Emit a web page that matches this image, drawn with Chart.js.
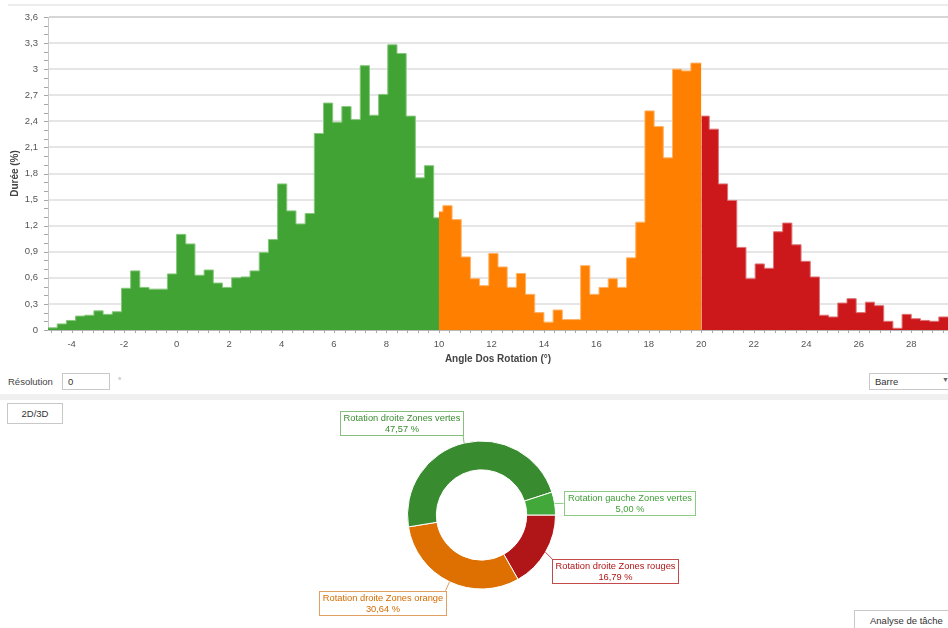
<!DOCTYPE html>
<html>
<head>
<meta charset="utf-8">
<title>Angle Dos Rotation</title>
<script src="https://cdn.jsdelivr.net/npm/chart.js@4.4.1/dist/chart.umd.min.js"></script>
<style>
  body { margin: 0; width: 948px; height: 628px; overflow: hidden; background: #fff;
         font-family: 'Liberation Sans', Arial, sans-serif; font-size: 9.5px; color: #444; position: relative; }
  .abs { position: absolute; }
  #topBand { left: 8px; top: 4px; width: 940px; height: 2px; background: #ececec; }
  #histo { left: 0; top: 0; }
  #donut { left: 0; top: 400px; }
  #resLabel { left: 8px; top: 376px; }
  #resInput { left: 62px; top: 373px; width: 48px; height: 17px; border: 1px solid #c8c8c8; box-sizing: border-box; padding: 2px 0 0 5px; color: #333; }
  #deg { left: 118px; top: 376px; font-size: 8px; color: #777; }
  #sep { left: 0; top: 394px; width: 948px; height: 6px; background: #f0f0f0; }
  #btn3d { left: 7px; top: 403px; width: 56px; height: 21px; border: 1px solid #c8c8c8; box-sizing: border-box; text-align: center; line-height: 19px; color: #333; background: #fff; }
  #typeSel { left: 869px; top: 373px; width: 90px; height: 17px; border: 1px solid #c8c8c8; box-sizing: border-box; padding: 2px 0 0 5px; color: #333; background: #fff; }
  #typeSel span { position: absolute; left: 72px; top: 2px; font-size: 7px; color: #666; }
  #tab { left: 854px; top: 610px; width: 104px; height: 22px; border: 1px solid #c8c8c8; box-sizing: border-box; padding: 4px 0 0 15px; color: #333; background: #fff; }
</style>
</head>
<body>
<div id="topBand" class="abs"></div>
<canvas id="histo" class="abs" width="948" height="370"></canvas>
<canvas id="donut" class="abs" width="948" height="228"></canvas>
<div id="resLabel" class="abs">Résolution</div>
<div id="resInput" class="abs">0</div>
<div id="deg" class="abs">°</div>
<div id="sep" class="abs"></div>
<div id="btn3d" class="abs">2D/3D</div>
<div id="typeSel" class="abs">Barre<span>▼</span></div>
<div id="tab" class="abs">Analyse de tâche</div>

<script>
// Histogram bins (left edge of each bin, in degrees) and durations (%), one set per zone
const greenStarts = [-4.9, -4.55, -4.2, -3.85, -3.5, -3.15, -2.8, -2.45, -2.1, -1.75, -1.4, -1.05, -0.7, -0.35,
    0, 0.35, 0.7, 1.05, 1.4, 1.75, 2.1, 2.45, 2.8, 3.15, 3.5, 3.85, 4.2, 4.55, 4.9, 5.25, 5.6, 5.95,
    6.3, 6.65, 7.0, 7.35, 7.7, 8.05, 8.4, 8.75, 9.1, 9.45, 9.8];
const greenValues = [0.025, 0.07, 0.11, 0.16, 0.17, 0.22, 0.18, 0.21, 0.48, 0.68, 0.49, 0.47, 0.47, 0.645,
    1.10, 0.99, 0.63, 0.69, 0.54, 0.49, 0.60, 0.61, 0.68, 0.89, 1.04, 1.68, 1.37, 1.22, 1.34, 2.26, 2.61, 2.39,
    2.57, 2.42, 3.04, 2.47, 2.71, 3.28, 3.18, 2.46, 1.75, 1.89, 1.29];

const orangeStarts = [10, 10.15, 10.5, 10.85, 11.2, 11.55, 11.9, 12.25, 12.6, 12.95, 13.3, 13.65, 14.0, 14.35,
    14.7, 15.05, 15.4, 15.75, 16.1, 16.45, 16.8, 17.15, 17.5, 17.85, 18.2, 18.55, 18.9, 19.25, 19.6];
const orangeValues = [1.36, 1.43, 1.27, 0.84, 0.59, 0.51, 0.88, 0.725, 0.49, 0.65, 0.41, 0.20, 0.09, 0.23,
    0.12, 0.12, 0.74, 0.41, 0.49, 0.59, 0.49, 0.83, 1.24, 2.52, 2.34, 1.98, 3.00, 2.98, 3.07];

const redStarts = [20, 20.3, 20.65, 21.0, 21.35, 21.7, 22.05, 22.4, 22.75, 23.1, 23.45, 23.8, 24.15, 24.5,
    24.85, 25.2, 25.55, 25.9, 26.25, 26.6, 26.95, 27.3, 27.65, 28.0, 28.35, 28.7, 29.05];
const redValues = [2.46, 2.31, 1.68, 1.49, 0.95, 0.59, 0.76, 0.71, 1.13, 1.23, 0.98, 0.79, 0.61, 0.17,
    0.15, 0.31, 0.36, 0.20, 0.32, 0.28, 0.10, 0.02, 0.18, 0.13, 0.11, 0.10, 0.15];

const zoneEnds = [10, 20, 29.4];
const xRange = [-4.9, 29.4];
const xTickValues = [-4, -2, 0, 2, 4, 6, 8, 10, 12, 14, 16, 18, 20, 22, 24, 26, 28];
const yTickValues = [0, 0.3, 0.6, 0.9, 1.2, 1.5, 1.8, 2.1, 2.4, 2.7, 3, 3.3, 3.6];

// Doughnut: share of time per zone
const sliceLabels = ['Rotation droite Zones rouges', 'Rotation droite Zones orange',
    'Rotation droite Zones vertes', 'Rotation gauche Zones vertes'];
const sliceValues = [16.79, 30.64, 47.57, 5.00];

const FONT = "'Liberation Sans', Arial, sans-serif";
Chart.defaults.font.family = FONT;
Chart.defaults.font.size = 9.5;

function frNumber(v) {
    return String(Number(v.toFixed(2))).replace('.', ',');
}

// stepped line: each point holds its value until the next one
function stepPoints(starts, values, end) {
    const pts = starts.map((s, i) => ({ x: s, y: values[i] }));
    pts.push({ x: end, y: values[values.length - 1] });
    return pts;
}

function zoneDataset(starts, values, end, fillColor, edgeColor) {
    return {
        data: stepPoints(starts, values, end),
        stepped: true,
        fill: 'origin',
        backgroundColor: fillColor,
        borderColor: edgeColor,
        borderWidth: 1,
        pointRadius: 0
    };
}

// small tick marks along both axes
const axisTicks = {
    id: 'axisTicks',
    afterDraw(chart) {
        const { ctx, chartArea, scales } = chart;
        const x = scales.x, y = scales.y;
        ctx.save();
        ctx.strokeStyle = '#a8a8a8';
        ctx.lineWidth = 1;
        ctx.beginPath();
        for (let i = Math.ceil(x.min / 0.4); i * 0.4 <= x.max; i++) {
            const px = Math.round(x.getPixelForValue(i * 0.4)) + 0.5;
            ctx.moveTo(px, chartArea.bottom);
            ctx.lineTo(px, chartArea.bottom + 3);
        }
        for (let i = 0; i <= 36; i++) {
            const py = Math.round(y.getPixelForValue(i / 10)) + 0.5;
            ctx.moveTo(chartArea.left - 4, py);
            ctx.lineTo(chartArea.left, py);
        }
        ctx.stroke();
        ctx.restore();
    }
};

const histoChart = new Chart(document.getElementById('histo'), {
    type: 'line',
    data: {
        datasets: [
            zoneDataset(greenStarts, greenValues, zoneEnds[0], '#41a334', '#86c87c'),
            zoneDataset(orangeStarts, orangeValues, zoneEnds[1], '#ff8000', '#ffb266'),
            zoneDataset(redStarts, redValues, zoneEnds[2], '#cc181b', '#de7476')
        ]
    },
    options: {
        responsive: false,
        animation: false,
        layout: { padding: { top: 17, left: 0, right: 0, bottom: 0 } },
        plugins: { legend: { display: false }, tooltip: { enabled: false } },
        scales: {
            x: {
                type: 'linear',
                min: xRange[0],
                max: xRange[1],
                afterBuildTicks: s => { s.ticks = xTickValues.map(v => ({ value: v })); },
                afterFit: s => { s.height = 40; },
                ticks: { color: '#555', padding: 9, maxRotation: 0, autoSkip: false, callback: v => String(v) },
                grid: { display: false, drawTicks: false },
                border: { color: '#b8b8b8' },
                title: { display: true, text: 'Angle Dos Rotation (°)', color: '#444',
                         font: { weight: 'bold', size: 10 }, padding: { top: 0, bottom: 5 } }
            },
            y: {
                min: 0,
                max: 3.6,
                afterBuildTicks: s => { s.ticks = yTickValues.map(v => ({ value: v })); },
                afterFit: s => { s.width = 48; },
                ticks: { color: '#555', padding: 10, callback: v => frNumber(v) },
                grid: { color: ctx => ctx.tick && ctx.tick.value === 3.6 ? '#d6d6d6' : '#e6e6e6',
                        lineWidth: 2, drawTicks: false },
                border: { color: '#c8c8c8' },
                title: { display: true, text: 'Durée (%)', color: '#444',
                         font: { weight: 'bold', size: 10 }, padding: { top: 9, bottom: 0 } }
            }
        }
    },
    plugins: [axisTicks]
});

// label boxes around the ring, tied to the middle of each slice
const sliceColors = ['#b01517', '#dd7000', '#398b30', '#43a83a'];
const calloutText = ['#b01517', '#d46c00', '#3a8c30', '#3f9f37'];
const calloutBorder = ['#c4494b', '#e0a060', '#86bf7e', '#8ccb84'];
const calloutPlace = [
    { corner: 'top-left', dx: 7, dy: 7 },
    { corner: 'top-right', dx: -4, dy: 9 },
    { corner: 'bottom-right', dx: -1, dy: -8 },
    { corner: 'left-middle', dx: 9, dy: 0 }
];

const callouts = {
    id: 'callouts',
    afterDatasetsDraw(chart) {
        const ctx = chart.ctx;
        const arcs = chart.getDatasetMeta(0).data;
        ctx.save();
        ctx.font = '9.3px ' + FONT;
        ctx.textAlign = 'center';
        ctx.textBaseline = 'middle';
        ctx.lineWidth = 1;
        arcs.forEach((arc, i) => {
            const p = arc.getProps(['x', 'y', 'startAngle', 'endAngle', 'outerRadius'], true);
            const mid = (p.startAngle + p.endAngle) / 2;
            const ax = p.x + Math.cos(mid) * p.outerRadius;
            const ay = p.y + Math.sin(mid) * p.outerRadius;
            const line1 = sliceLabels[i];
            const line2 = sliceValues[i].toFixed(2).replace('.', ',') + ' %';
            const w = Math.ceil(Math.max(ctx.measureText(line1).width, ctx.measureText(line2).width)) + 6;
            const h = 24;
            const pl = calloutPlace[i];
            const tx = ax + pl.dx, ty = ay + pl.dy;
            let bx = tx, by = ty;
            if (pl.corner.indexOf('right') >= 0) bx -= w;
            if (pl.corner.indexOf('bottom') >= 0) by -= h;
            if (pl.corner === 'left-middle') by -= h / 2;
            bx = Math.round(bx) + 0.5;
            by = Math.round(by) + 0.5;

            ctx.strokeStyle = calloutBorder[i];
            ctx.beginPath();
            ctx.moveTo(ax, ay);
            ctx.lineTo(tx, ty);
            ctx.stroke();

            ctx.fillStyle = '#fff';
            ctx.fillRect(bx, by, w, h);
            ctx.strokeRect(bx, by, w, h);

            ctx.fillStyle = calloutText[i];
            ctx.fillText(line1, bx + w / 2, by + 6.5);
            ctx.fillText(line2, bx + w / 2, by + 17.5);
        });
        ctx.restore();
    }
};

const donutChart = new Chart(document.getElementById('donut'), {
    type: 'doughnut',
    data: {
        labels: sliceLabels,
        datasets: [{
            data: sliceValues,
            backgroundColor: sliceColors,
            borderColor: '#ffffff',
            borderWidth: 1,
            hoverOffset: 0
        }]
    },
    options: {
        responsive: false,
        animation: false,
        rotation: 90,
        radius: 74,
        cutout: '61%',
        layout: { padding: { left: 407, right: 392, top: 40, bottom: 38 } },
        plugins: { legend: { display: false }, tooltip: { enabled: false } }
    },
    plugins: [callouts]
});
</script>
</body>
</html>
